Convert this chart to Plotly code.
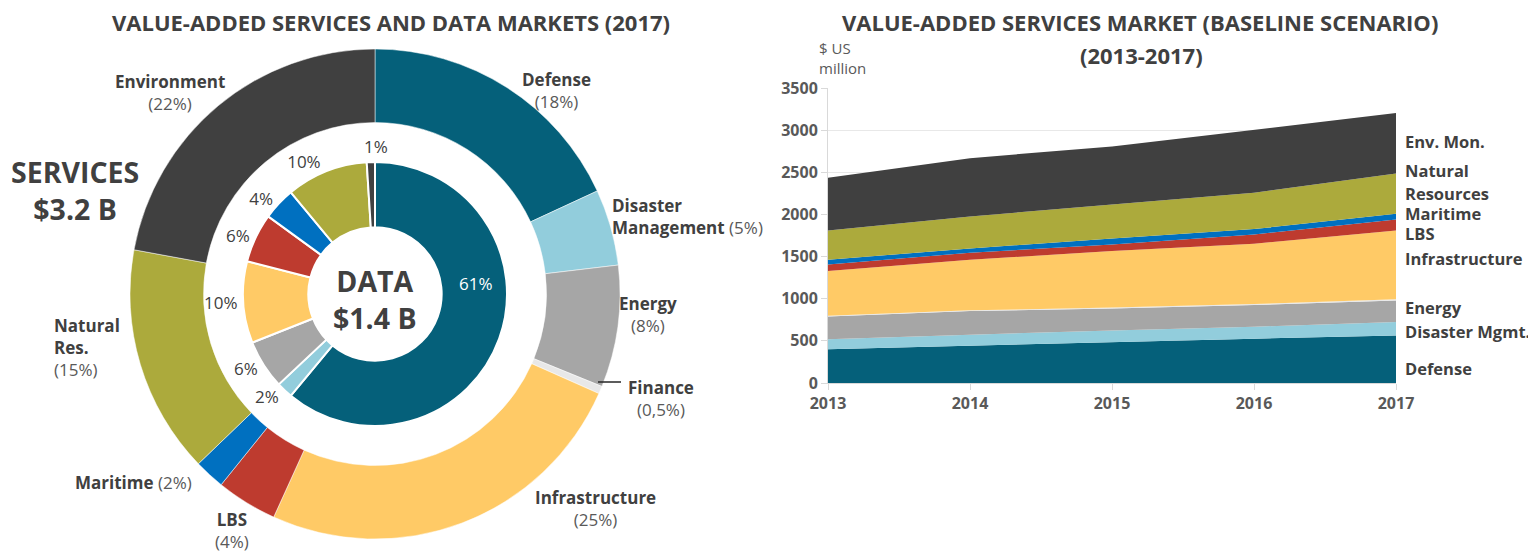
import plotly.graph_objects as go

# ---- data -------------------------------------------------------------
# outer ring: value-added services 2017 (%)
svc_labels = ["Defense", "Disaster Management", "Energy", "Finance", "Infrastructure",
              "LBS", "Maritime", "Natural Res.", "Environment"]
svc_share = [18, 5, 8, 0.5, 25, 4, 2, 15, 22]
svc_pct_text = ["18%", "5%", "8%", "0,5%", "25%", "4%", "2%", "15%", "22%"]

# inner ring: data market 2017 (%)
data_labels = ["Defense", "Disaster Management", "Energy", "Infrastructure",
               "LBS", "Maritime", "Natural Res.", "Environment"]
data_share = [61, 2, 6, 10, 6, 4, 10, 1]

# stacked area: services market, $US million
years = [2013, 2014, 2015, 2016, 2017]
defense = [400, 443, 490, 526, 565]
disaster = [120, 130, 134, 142, 158]
energy = [270, 281, 261, 257, 257]
finance = [8, 8, 10, 12, 14]
infrastructure = [530, 600, 670, 715, 816]
lbs = [79, 83, 79, 111, 131]
maritime = [55, 52, 71, 63, 67]
natural_res = [348, 379, 404, 431, 478]
env_mon = [625, 692, 687, 747, 716]

area_names = ["Defense", "Disaster Mgmt.", "Energy", "Finance", "Infrastructure",
              "LBS", "Maritime", "Natural Resources", "Env. Mon."]
area_values = [defense, disaster, energy, finance, infrastructure,
               lbs, maritime, natural_res, env_mon]

# right-hand labels of the area chart
side_labels = ["Env. Mon.", "Natural", "Resources", "Maritime", "LBS",
               "Infrastructure", "Energy", "Disaster Mgmt.", "Defense"]
side_label_y = [2860, 2527, 2254, 2017, 1779, 1483, 890, 617, 178]

# ---- styling ----------------------------------------------------------
FONT = "Open Sans"
DARK = "#404040"
GREY = "#595959"
colors = {
    "Defense": "#05607a",
    "Disaster Management": "#92cddc",
    "Energy": "#a6a6a6",
    "Finance": "#e8e8e8",
    "Infrastructure": "#ffca66",
    "LBS": "#be3b2f",
    "Maritime": "#0070c0",
    "Natural Res.": "#acaa3c",
    "Environment": "#404040",
}
area_colors = [colors[k] for k in ["Defense", "Disaster Management", "Energy", "Finance",
                                    "Infrastructure", "LBS", "Maritime", "Natural Res.",
                                    "Environment"]]


def pct(s):
    return f"<span style='color:{GREY};font-weight:normal'>({s})</span>"


# outer ring labels: text, (x, y) in page pixels, anchor, alignment
outer_label_text = [
    "<b>Defense</b><br>" + pct(svc_pct_text[0]),
    "<b>Disaster</b><br><b>Management</b> " + pct(svc_pct_text[1]),
    "<b>Energy</b><br>" + pct(svc_pct_text[2]),
    "<b>Finance</b><br>" + pct(svc_pct_text[3]),
    "<b>Infrastructure</b><br>" + pct(svc_pct_text[4]),
    "<b>LBS</b><br>" + pct(svc_pct_text[5]),
    "<b>Maritime</b> " + pct(svc_pct_text[6]),
    "<b>Natural</b><br><b>Res.</b><br>" + pct(svc_pct_text[7]),
    "<b>Environment</b><br>" + pct(svc_pct_text[8]),
]
outer_label_pos = [(556, 90), (610, 216), (648, 314), (661, 398), (595, 508),
                   (232, 530), (133, 483), (52, 347), (170, 92)]
outer_label_anchor = ["center", "left", "center", "center", "center",
                      "center", "center", "left", "center"]

W, H = 1528, 552      # page has an 8 px body margin
OFF = 8
cx, cy = 375, 294     # donut centre in page pixels


def px(x, y):
    return (x - OFF) / W, (H - (y - OFF)) / H


def dom(r):
    x0, y0 = px(cx - r, cy + r)
    x1, y1 = px(cx + r, cy - r)
    return dict(x=[x0, x1], y=[y0, y1])


fig = go.Figure()

fig.add_trace(go.Pie(
    labels=svc_labels, values=svc_share, textinfo="none",
    sort=False, direction="clockwise", rotation=0,
    hole=0.70, domain=dom(245), automargin=False,
    marker=dict(colors=[colors[k] for k in svc_labels], line=dict(color="white", width=0.5)),
    showlegend=False, hoverinfo="label+value",
))

inner_pos = ["inside", "outside", "outside", "outside", "outside", "outside", "outside", "none"]
fig.add_trace(go.Pie(
    labels=data_labels, values=data_share,
    text=[f"{v}%" for v in data_share], textinfo="text",
    texttemplate=["", "%{text}", "%{text}", "%{text}", "%{text}", "%{text}", "%{text}", ""],
    textposition=inner_pos, sort=False, direction="clockwise",
    rotation=0, hole=0.505, domain=dom(132), automargin=False,
    marker=dict(colors=[colors[k] for k in data_labels], line=dict(color="white", width=2)),
    outsidetextfont=dict(family=FONT, size=17, color=DARK),
    showlegend=False, hoverinfo="label+value",
))

for name, vals, col in zip(area_names, area_values, area_colors):
    fig.add_trace(go.Scatter(
        x=years, y=vals, name=name, stackgroup="one", mode="lines",
        line=dict(width=0, color=col), fillcolor=col, showlegend=False,
    ))

for lab, yv in zip(side_labels, side_label_y):
    fig.add_annotation(x=2017, y=yv, xref="x", yref="y", text=f"<b>{lab}</b>",
                       xanchor="left", yanchor="middle", xshift=7, showarrow=False,
                       font=dict(family=FONT, size=16.5, color=DARK))

# outer ring labels
for i, (txt, (lx, ly), anc) in enumerate(zip(outer_label_text, outer_label_pos, outer_label_anchor)):
    ax_, ay_ = px(lx, ly)
    fig.add_annotation(x=ax_, y=ay_, xref="paper", yref="paper", text=txt,
                       xanchor=anc, yanchor="middle", align=anc, showarrow=False,
                       font=dict(family=FONT, size=17, color=DARK))

# Finance leader line
l0x, l0y = px(598, 382)
l1x, l1y = px(621, 382)
fig.add_shape(type="line", xref="paper", yref="paper", x0=l0x, y0=l0y, x1=l1x, y1=l1y,
              line=dict(color="#262626", width=1.5))

# inner ring labels that sit apart from the automatic placement
for txt, (lx, ly), col in [(f"{data_share[0]}%", (476, 283), "white"),
                           (f"{data_share[-1]}%", (376, 146), DARK)]:
    ax_, ay_ = px(lx, ly)
    fig.add_annotation(x=ax_, y=ay_, xref="paper", yref="paper", text=txt,
                       xanchor="center", yanchor="middle", showarrow=False,
                       font=dict(family=FONT, size=17, color=col))

# titles and centre texts
tx, ty = px(391, 22)
fig.add_annotation(x=tx, y=ty, xref="paper", yref="paper", xanchor="center", yanchor="middle",
                   text="<b>VALUE-ADDED SERVICES AND DATA MARKETS (2017)</b>",
                   showarrow=False, font=dict(family=FONT, size=22, color=DARK))
tx, ty = px(1140, 22)
fig.add_annotation(x=tx, y=ty, xref="paper", yref="paper", xanchor="center", yanchor="middle",
                   text="<b>VALUE-ADDED SERVICES MARKET (BASELINE SCENARIO)</b>",
                   showarrow=False, font=dict(family=FONT, size=22, color=DARK))
tx, ty = px(1141, 55)
fig.add_annotation(x=tx, y=ty, xref="paper", yref="paper", xanchor="center", yanchor="middle",
                   text="<b>(2013-2017)</b>",
                   showarrow=False, font=dict(family=FONT, size=22, color=DARK))
tx, ty = px(75, 190)
fig.add_annotation(x=tx, y=ty, xref="paper", yref="paper", xanchor="center", yanchor="middle",
                   text="<b>SERVICES<br>$3.2 B</b>", showarrow=False,
                   font=dict(family=FONT, size=28.5, color=DARK))
tx, ty = px(cx, 299)
fig.add_annotation(x=tx, y=ty, xref="paper", yref="paper", xanchor="center", yanchor="middle",
                   text="<b>DATA<br>$1.4 B</b>", showarrow=False,
                   font=dict(family=FONT, size=28.5, color=DARK))
tx, ty = px(817, 36)
fig.add_annotation(x=tx, y=ty, xref="paper", yref="paper",
                   text="$ US<br>million", showarrow=False, xanchor="left", yanchor="top",
                   align="left", font=dict(family=FONT, size=15, color=GREY))

axis_font = dict(family=FONT, size=16, color=GREY, weight="bold")
xd0, yd0 = px(828, 383)
xd1, yd1 = px(1396, 88)
fig.update_layout(
    width=W, height=H, margin=dict(l=0, r=0, t=0, b=0, autoexpand=False),
    paper_bgcolor="white", plot_bgcolor="white",
    font=dict(family=FONT, color=DARK),
    xaxis=dict(domain=[xd0, xd1], range=[2013, 2017], tickvals=years,
               showgrid=False, showline=True, linecolor="#d9d9d9", ticks="outside",
               ticklen=6, tickcolor="#d9d9d9", zeroline=False, automargin=False,
               tickfont=axis_font),
    yaxis=dict(domain=[yd0, yd1], range=[0, 3500], dtick=500,
               showgrid=True, gridcolor="#e8e8e8", showline=True, linecolor="#d9d9d9",
               ticks="outside", ticklen=6, tickcolor="#d9d9d9", zeroline=False,
               automargin=False, tickfont=axis_font),
)

fig.write_html("out.html")
